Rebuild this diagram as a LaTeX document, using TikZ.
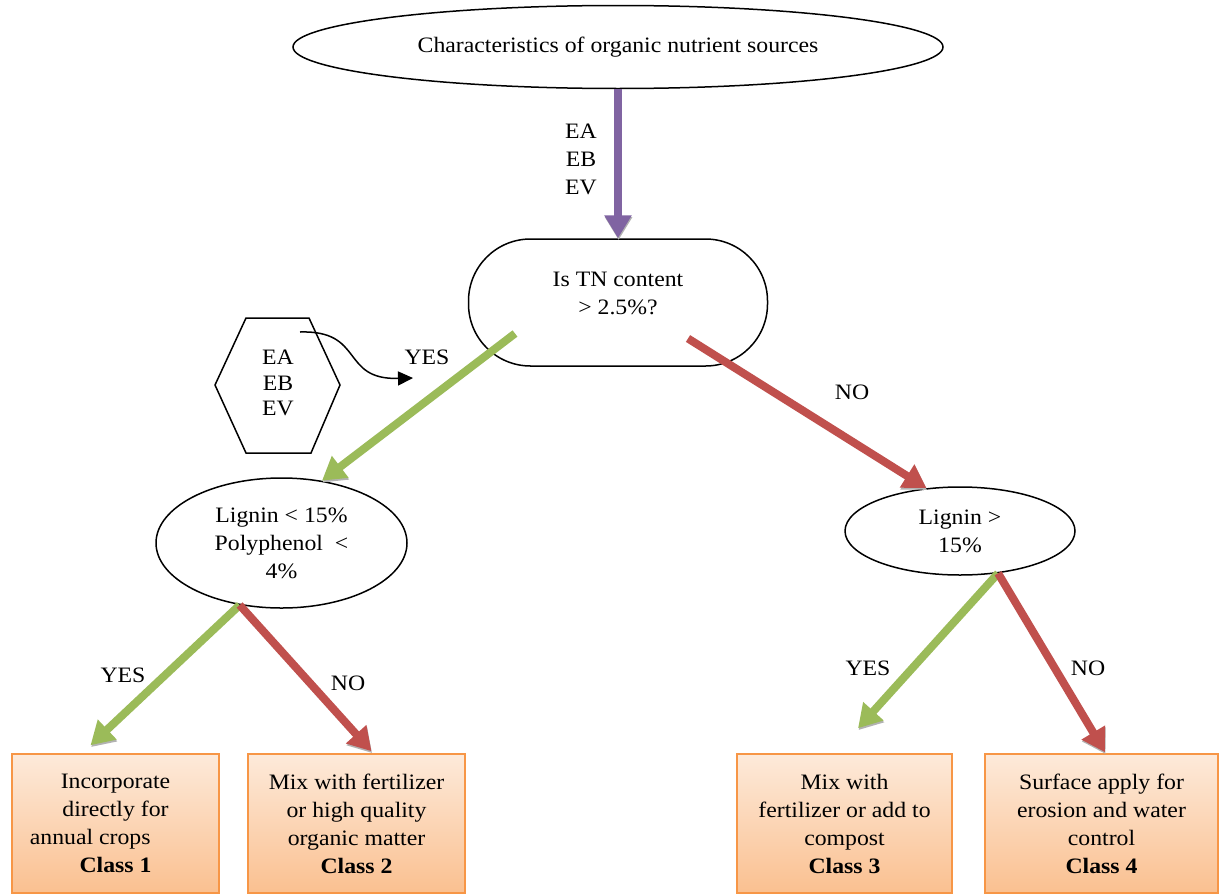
\documentclass[tikz,border=0pt]{standalone}
\usepackage{fontspec}
\setmainfont{Liberation Serif}[FakeStretch=1.08]
\usetikzlibrary{arrows.meta, positioning, shapes.geometric, calc}
\definecolor{cpurple}{HTML}{8064A2}
\definecolor{cgreen}{HTML}{9BBB59}
\definecolor{cred}{HTML}{C0504D}
\definecolor{corange}{HTML}{F79646}
\definecolor{cpeach}{HTML}{FDEADA}
\definecolor{capricot}{HTML}{FAC090}
\tikzset{
  every picture/.style={font=\fontsize{11}{14}\selectfont, line width=0.75pt},
  oval/.style={draw, ellipse, align=center, inner sep=0pt},
  decision/.style={draw, rectangle, rounded corners=31pt, align=center, minimum width=149.5pt, minimum height=63.5pt, text depth=9pt},
  classbox/.style={draw=corange, top color=cpeach, bottom color=capricot, align=center, minimum width=#1, minimum height=69.5pt},
  flow/.style={-{Triangle[length=11.5pt, width=13pt]}, draw=#1, line width=4pt,
    preaction={draw=gray!60, transform canvas={shift={(0.3pt,-0.9pt)}}}},
  tag/.style={align=center, inner sep=1pt},
  pointer/.style={-{Triangle[length=7.5pt, width=7pt]}, line width=0.75pt},
}

\begin{document}
\begin{tikzpicture}[x=0.5pt, y=-0.5pt]
  \useasboundingbox (0,0) rectangle (1219,894);
  % questions
  \node[oval, minimum width=325pt, minimum height=41.5pt] (source) at (618,47) {Characteristics of organic nutrient sources};
  \node[decision] (tncheck) at (618,302.5) {Is TN content\\> 2.5\%?};
  \node[oval, minimum width=125.5pt, minimum height=65pt] (lowlig) at (281.5,543) {Lignin < 15\%\\Polyphenol\ \ <\\4\%};
  \node[oval, minimum width=115pt, minimum height=44pt] (highlig) at (960,531) {Lignin >\\15\%};
  % classes
  \node[classbox=103.5pt] (class1) at (115.5,823.5) {Incorporate\\directly for\\annual crops\makebox[2.3em]{}\\\textbf{Class 1}};
  \node[classbox=108.5pt] (class2) at (356.5,823.5) {Mix with fertilizer\\or high quality\\organic matter\\\textbf{Class 2}};
  \node[classbox=107.5pt] (class3) at (844.5,823.5) {Mix with\\fertilizer or add to\\compost\\\textbf{Class 3}};
  \node[classbox=116.5pt] (class4) at (1101.5,823.5) {Surface apply for\\erosion and water\\control\\\textbf{Class 4}};
  % hexagon note
  \draw (215,385) -- (246,318) -- (309,318) -- (340,385) -- (311,453) -- (246,453) -- cycle;
  \node[tag, font=\fontsize{11}{12.8}\selectfont] (elements) at (278,383) {EA\\EB\\EV};
  \coordinate (hookstart) at (300,332);
  \coordinate (hookend) at (413,378);
  \draw[pointer] (hookstart) .. controls (365,330) and (340,380) .. (hookend);
  \node[tag] (inputs) at (581,159) {EA\\EB\\EV};
  % arrows
  \draw[flow=cpurple] (source.south) -- (tncheck.north);
  \draw[flow=cgreen] ($(tncheck.center)+(-103,31)$) -- (lowlig.57);
  \draw[flow=cred] ($(tncheck.center)+(70,36)$) -- (highlig.128);
  \draw[flow=cgreen] (lowlig.236) -- ($(class1.north)+(-25,-8)$);
  \draw[flow=cred] (lowlig.236) -- ($(class2.north)+(15,-2)$);
  \draw[flow=cgreen] (highlig.312) -- ($(class3.north)+(13.5,-25)$);
  \draw[flow=cred] (highlig.312) -- ($(class4.north)+(3.5,-1)$);
  % answers
  \node[tag] (yes1) at (427,357) {YES};
  \node[tag] (no1) at (852,392) {NO};
  \node[tag] (yes2) at (123,675) {YES};
  \node[tag] (no2) at (348,683) {NO};
  \node[tag] (yes3) at (868,668) {YES};
  \node[tag] (no3) at (1088,668) {NO};
\end{tikzpicture}
\end{document}
